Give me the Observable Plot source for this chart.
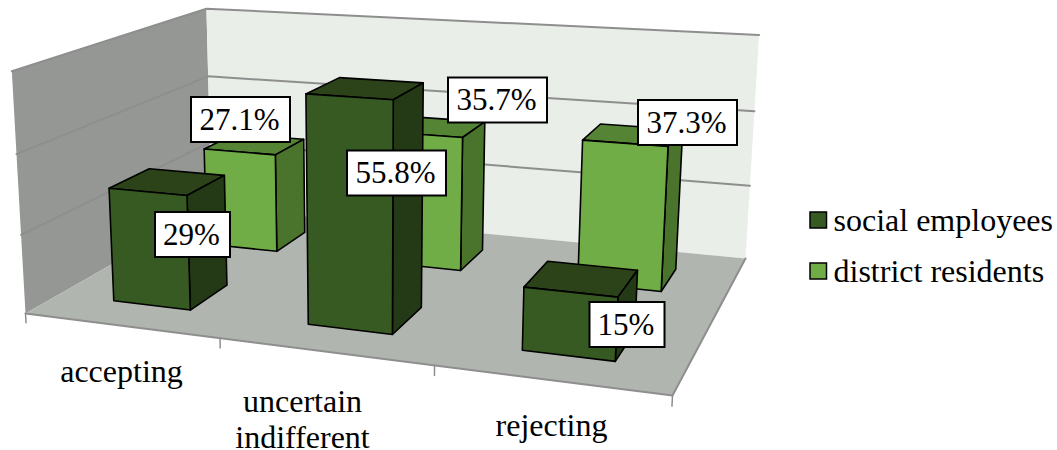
<!DOCTYPE html>
<html>
<head>
<meta charset="utf-8">
<script src="https://cdn.jsdelivr.net/npm/d3@7"></script>
<script src="https://cdn.jsdelivr.net/npm/@observablehq/plot@0.6"></script>
<style>
html,body{margin:0;padding:0;background:#fff}
svg{display:block}
</style>
</head>
<body>
<div id="chart"></div>
<script>
// ---- data ----
const categories = ["accepting", "uncertain\nindifferent", "rejecting"];
const seriesNames = ["social employees", "district residents"];
const socialEmployees = [29, 55.8, 15];
const districtResidents = [27.1, 35.7, 37.3];
const wallTicks = [0, 20, 40, 60];

// ---- 3D camera: floor corners (front-left, front-right, back-right, back-left)
// plus the vertical axis column of the projective matrix ----
const floorCorners = [[25,313],[672,395],[745,258],[211,207]];
const verticalColumn = {c:-14.1, f:-245, i:-0.0381};
const vMax = 60;
const barHalfWidth = 0.0675;
const rows = [[0.153,0.354],[0.66,0.85]];

function makeProjection([A,B,C,D]) {
  const dx1=B[0]-C[0], dx2=D[0]-C[0], sx=A[0]-B[0]+C[0]-D[0];
  const dy1=B[1]-C[1], dy2=D[1]-C[1], sy=A[1]-B[1]+C[1]-D[1];
  const det=dx1*dy2-dx2*dy1;
  const g=(sx*dy2-dx2*sy)/det, h=(dx1*sy-sx*dy1)/det;
  const a=B[0]-A[0]+g*B[0], b=D[0]-A[0]+h*D[0];
  const d=B[1]-A[1]+g*B[1], e=D[1]-A[1]+h*D[1];
  const {c,f,i}=verticalColumn;
  return (s,t,v)=>{
    const k=v/vMax, w=g*s+h*t+1+i*k;
    return [(a*s+b*t+A[0]+c*k)/w,(d*s+e*t+A[1]+f*k)/w];
  };
}
const project = makeProjection(floorCorners);

// ---- colours ----
const colors = {
  wallLeft:"#949794", wallBack:"#e9efe8", floor:"#b1b5af", edge:"#8e8e8e",
  0:{front:"#375a23",top:"#2c4319",side:"#243a16"},
  1:{front:"#70ad47",top:"#558534",side:"#4a742c"}
};

// ---- build faces ----
const rowsOut=[]; let fid=0;
function face(pts,fill){
  const id=fid++;
  [...pts,pts[0]].forEach(p=>rowsOut.push({x:p[0],y:p[1],id,fill}));
}
const walls=[];
function wallFace(pts,fill){const id=fid++;[...pts,pts[0]].forEach(p=>walls.push({x:p[0],y:p[1],id,fill}));}
wallFace([project(0,0,0),project(0,1,0),project(0,1,vMax),project(0,0,vMax)],colors.wallLeft);
wallFace([project(0,1,0),project(1,1,0),project(1,1,vMax),project(0,1,vMax)],colors.wallBack);
wallFace([project(0,0,0),project(1,0,0),project(1,1,0),project(0,1,0)],colors.floor);

const gridPts=[];
wallTicks.filter(v=>v>0).forEach(v=>{
  [[0,0],[0,1],[1,1]].forEach(([s,t])=>{const p=project(s,t,v);gridPts.push({x:p[0],y:p[1],v});});
});
const edgePts=[project(0,0,0),project(1,0,0),project(1,1,0)].map(p=>({x:p[0],y:p[1]}));
const tickPts=[];
categories.concat([""]).forEach((_,i)=>{
  const a=project(i/3,0,0), b=project(i/3,0,-2.4);
  tickPts.push({x:a[0],y:a[1],i},{x:b[0],y:b[1],i});
});

function bar(i,rowIdx,value){
  const c=(i+0.5)/3, s0=c-barHalfWidth, s1=c+barHalfWidth, [t0,t1]=rows[rowIdx];
  const col=colors[rowIdx];
  face([project(s0,t0,value),project(s1,t0,value),project(s1,t1,value),project(s0,t1,value)],col.top);
  face([project(s1,t0,0),project(s1,t1,0),project(s1,t1,value),project(s1,t0,value)],col.side);
  face([project(s0,t0,0),project(s1,t0,0),project(s1,t0,value),project(s0,t0,value)],col.front);
}
categories.forEach((_,i)=>bar(i,1,districtResidents[i]));
categories.forEach((_,i)=>bar(i,0,socialEmployees[i]));

// ---- labels ----
const labelBoxes = [
  {text:socialEmployees[0]+"%",  cx:192.5, cy:234.5, w:75},
  {text:districtResidents[0]+"%",cx:240.5, cy:119.5, w:99},
  {text:socialEmployees[1]+"%",  cx:396.5, cy:173, w:99},
  {text:districtResidents[1]+"%",cx:497.5, cy:100, w:99},
  {text:districtResidents[2]+"%",cx:687.5, cy:122.5, w:99},
  {text:socialEmployees[2]+"%",  cx:627, cy:324.5, w:75}
];
const boxH=45;
const catLabels=[
  {text:"accepting",x:121,y:371},
  {text:"uncertain",x:302,y:401},
  {text:"indifferent",x:302,y:437},
  {text:"rejecting",x:551,y:425}
];
const legendItems=[
  {name:seriesNames[0],y:220,color:colors[0].front},
  {name:seriesNames[1],y:271,color:colors[1].front}
];
const font="'Liberation Serif','Times New Roman',serif";

const plot=Plot.plot({
  width:1057,height:450,
  marginTop:0,marginRight:0,marginBottom:0,marginLeft:0,
  x:{domain:[0,1057],range:[0,1057],axis:null},
  y:{domain:[0,450],range:[0,450],axis:null},
  style:{background:"#fff",fontFamily:font},
  marks:[
    Plot.line(walls,{x:"x",y:"y",z:"id",fill:"fill",stroke:null,curve:"linear"}),
    Plot.line(gridPts,{x:"x",y:"y",z:"v",stroke:colors.edge,strokeWidth:2}),
    Plot.line(edgePts,{x:"x",y:"y",stroke:colors.edge,strokeWidth:2}),
    Plot.line(tickPts,{x:"x",y:"y",z:"i",stroke:colors.edge,strokeWidth:1.5}),
    Plot.line(rowsOut,{x:"x",y:"y",z:"id",fill:"fill",stroke:"#000",strokeWidth:1.6,strokeLinejoin:"round"}),
    Plot.rect(labelBoxes,{x1:d=>d.cx-d.w/2,x2:d=>d.cx+d.w/2,y1:d=>d.cy-boxH/2,y2:d=>d.cy+boxH/2,fill:"#fff",stroke:"#000",strokeWidth:2}),
    Plot.text(labelBoxes,{x:d=>d.cx-1.5,y:"cy",text:"text",fontSize:31,fill:"#000"}),
    Plot.text(catLabels,{x:"x",y:"y",text:"text",fontSize:32,fill:"#000"}),
    Plot.rect(legendItems,{x1:()=>810,x2:()=>826.5,y1:d=>d.y-8,y2:d=>d.y+8,fill:"color",stroke:"#000",strokeWidth:1.5}),
    Plot.text(legendItems,{x:()=>833,y:"y",text:"name",textAnchor:"start",fontSize:32,fill:"#000"})
  ]
});
document.getElementById("chart").appendChild(plot);
</script>
</body>
</html>
